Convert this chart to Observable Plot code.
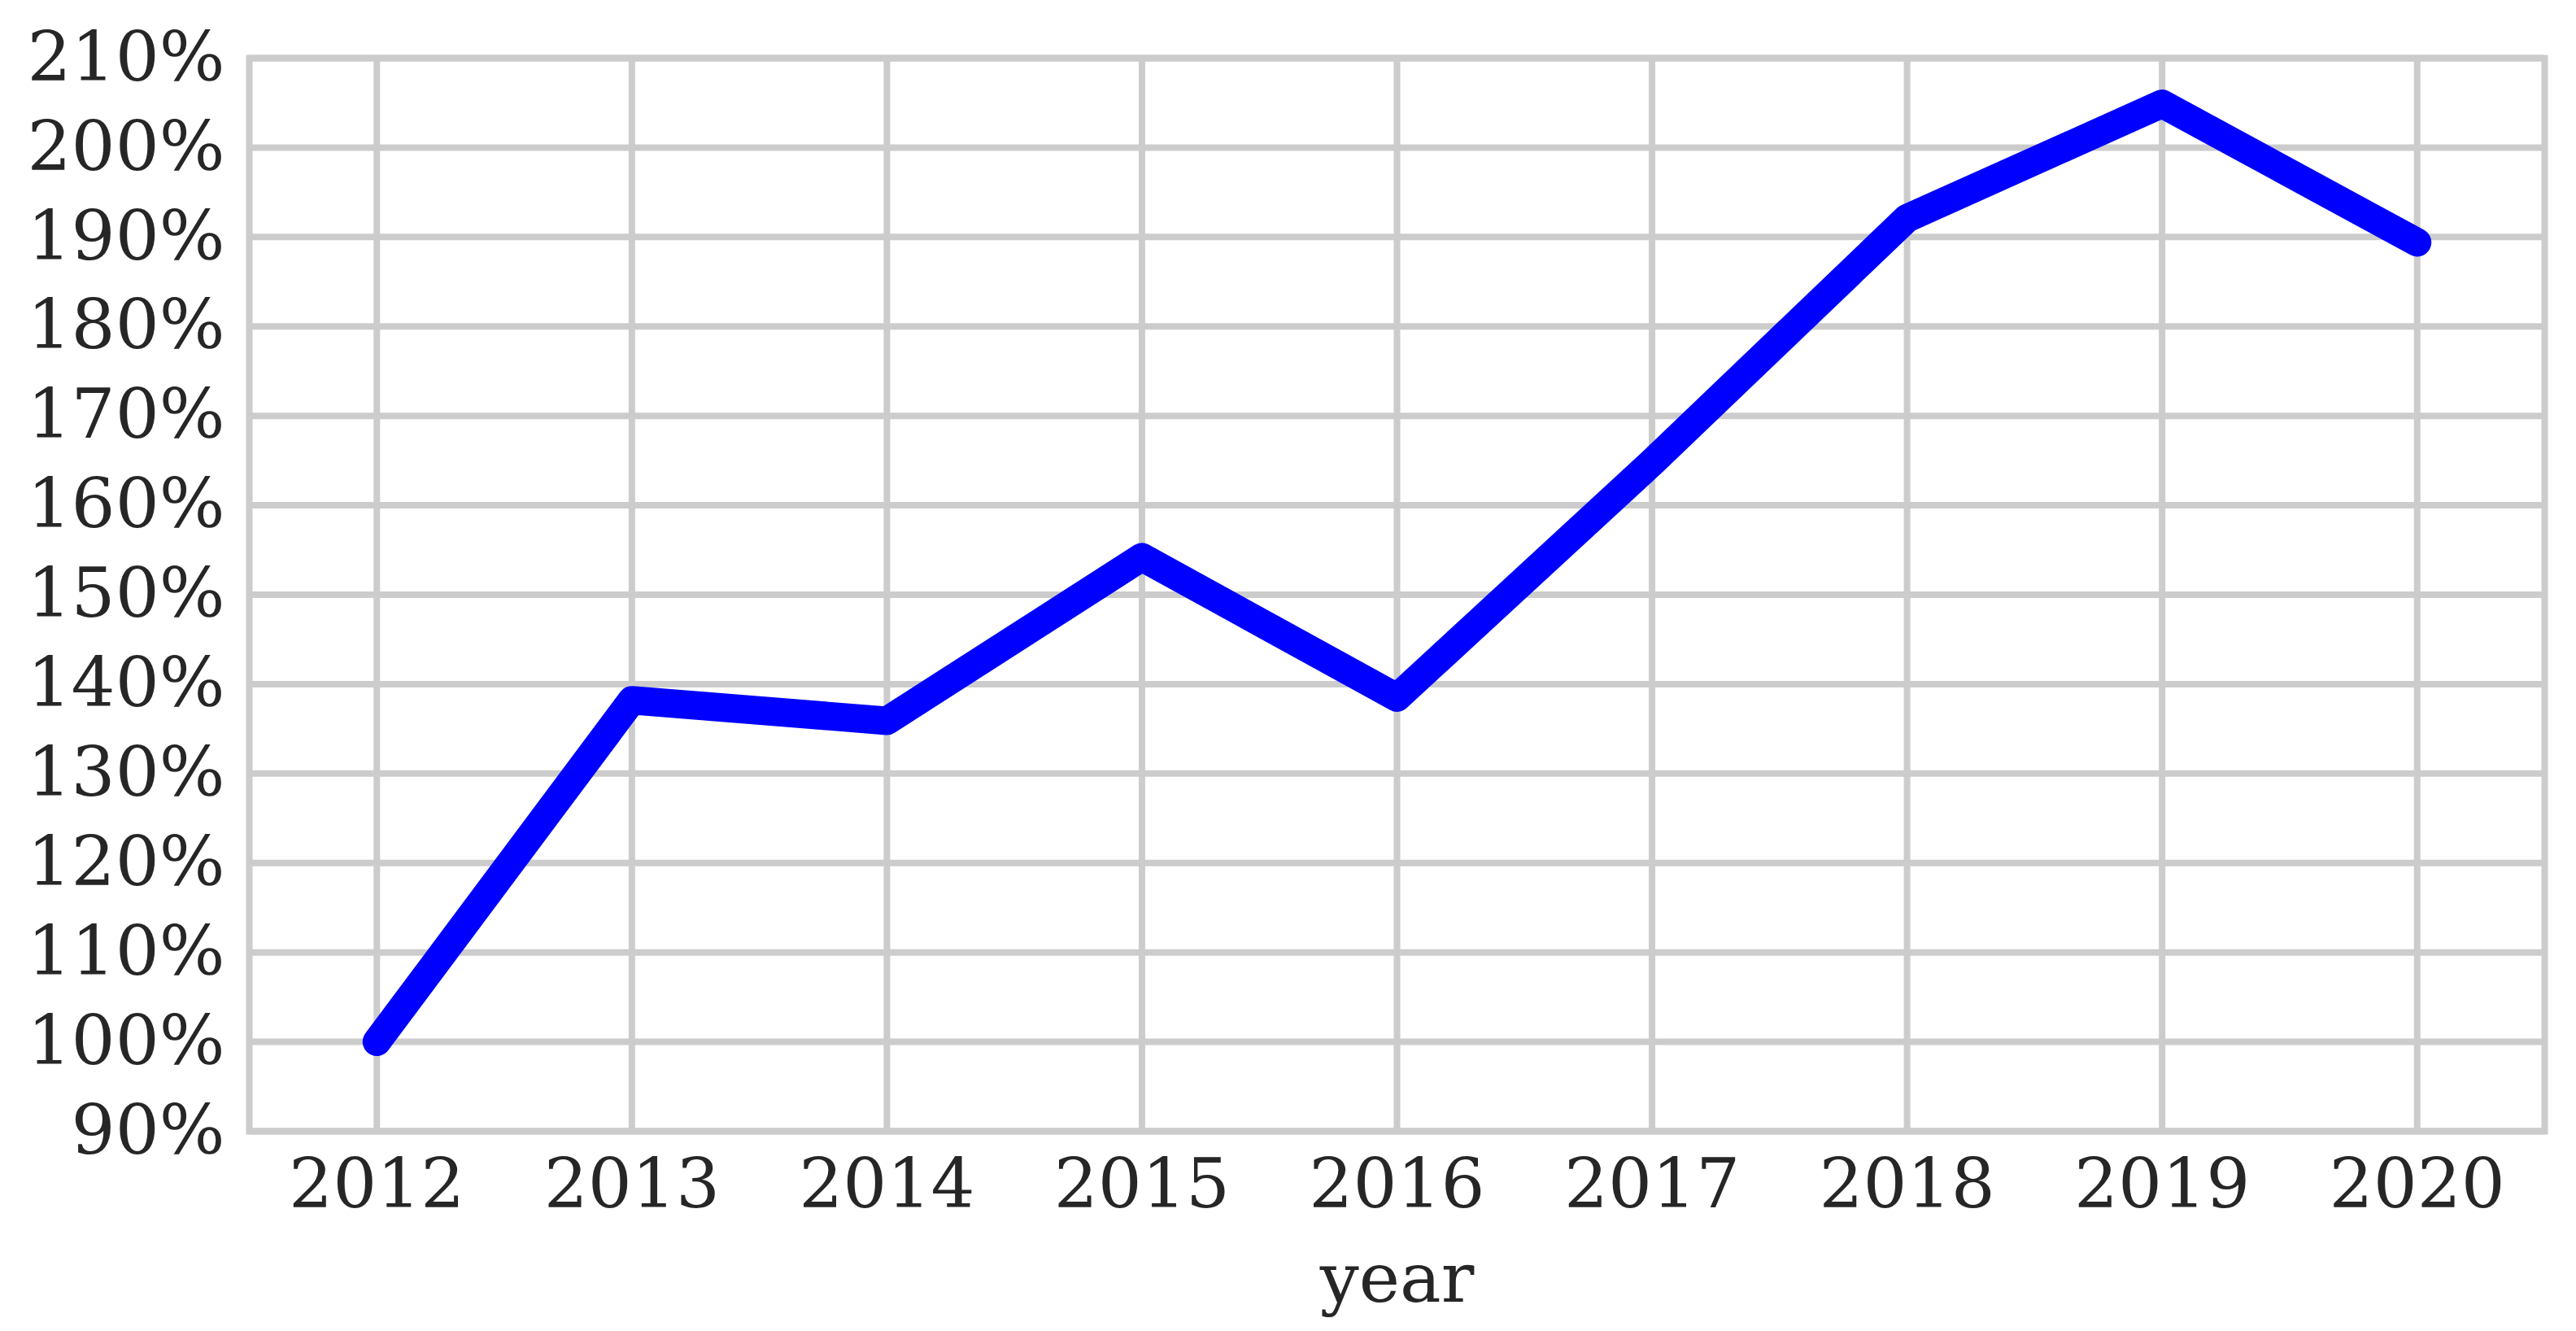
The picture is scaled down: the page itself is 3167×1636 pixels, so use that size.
<!DOCTYPE html>
<html>
<head>
<meta charset="utf-8">
<script src="https://cdn.jsdelivr.net/npm/d3@7"></script>
<script src="https://cdn.jsdelivr.net/npm/@observablehq/plot@0.6"></script>
<style>
  html, body { margin: 0; padding: 0; background: #ffffff; }
  svg { display: block; }
</style>
</head>
<body>
<div id="chart"></div>
<script>
const years = [2012, 2013, 2014, 2015, 2016, 2017, 2018, 2019, 2020];
const values = [100, 138.2, 135.9, 154.2, 138.5, 164.8, 192.1, 204.9, 189.4];
const yTicks = [90, 100, 110, 120, 130, 140, 150, 160, 170, 180, 190, 200, 210];
const xTicks = [2012, 2013, 2014, 2015, 2016, 2017, 2018, 2019, 2020];
const xLabel = "year";

const data = years.map((y, i) => ({year: y, value: values[i]}));

const font = "'DejaVu Serif', serif";
const textColor = "#262626";
const gridColor = "#cccccc";

const chart = Plot.plot({
  width: 3167,
  height: 1636,
  marginLeft: 306,
  marginRight: 39,
  marginTop: 71,
  marginBottom: 246,
  style: {background: "#ffffff", fontFamily: font, color: textColor},
  x: {domain: [2011.5, 2020.5]},
  y: {domain: [90, 210]},
  marks: [
    Plot.ruleX(xTicks, {x: d => d, stroke: gridColor, strokeWidth: 8}),
    Plot.ruleY(yTicks, {y: d => d, stroke: gridColor, strokeWidth: 8}),
    Plot.frame({stroke: gridColor, strokeWidth: 8}),
    Plot.axisY({
      ticks: yTicks,
      tickSize: 0,
      tickPadding: 30,
      tickFormat: d => d + "%",
      fontSize: 85,
      fill: textColor,
      label: null
    }),
    Plot.axisX({
      ticks: xTicks,
      tickSize: 0,
      tickPadding: 33,
      tickFormat: d => String(d),
      fontSize: 85,
      fill: textColor,
      label: null
    }),
    Plot.text([xLabel], {
      text: d => d,
      frameAnchor: "bottom",
      lineAnchor: "bottom",
      dy: 209,
      fontSize: 85,
      fill: textColor
    }),
    Plot.line(data, {
      x: "year",
      y: "value",
      stroke: "#0000ff",
      strokeWidth: 35,
      strokeLinecap: "round",
      strokeLinejoin: "round"
    })
  ]
});
document.getElementById("chart").appendChild(chart);
</script>
</body>
</html>
